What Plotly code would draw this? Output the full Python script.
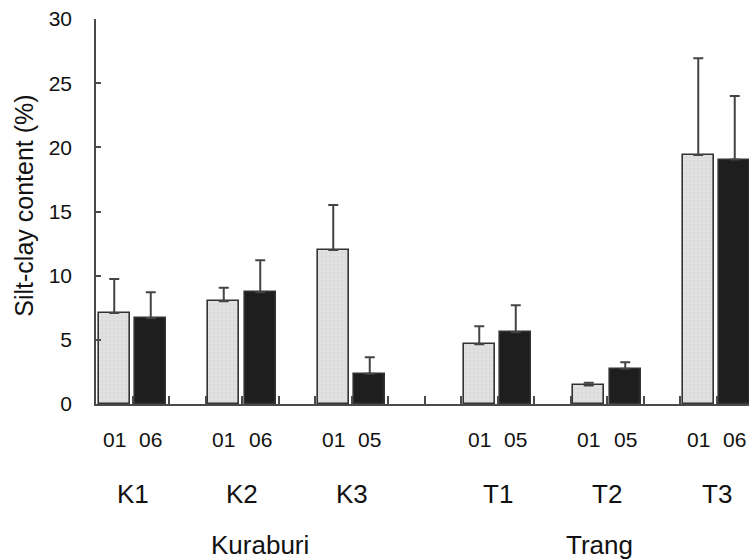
import plotly.graph_objects as go

# ---- data ----
sites = ["K1", "K2", "K3", "T1", "T2", "T3"]
regions = ["Kuraburi", "Trang"]
year_a = ["01", "01", "01", "01", "01", "01"]
year_b = ["06", "06", "05", "05", "05", "06"]
silt_a = [7.1, 8.0, 12.0, 4.65, 1.45, 19.4]
err_a = [2.65, 1.05, 3.5, 1.4, 0.2, 7.55]
silt_b = [6.7, 8.7, 2.35, 5.6, 2.75, 19.05]
err_b = [2.0, 2.5, 1.3, 2.1, 0.5, 4.95]
y_ticks = [0, 5, 10, 15, 20, 25, 30]

# ---- layout helpers (slot positions on a numeric axis) ----
pair_start = [0, 3, 6, 10, 13, 16]
xa = [p for p in pair_start]
xb = [p + 1 for p in pair_start]
boundaries = [k + 0.5 for k in range(17)]

FONT = "Liberation Sans, Arial, sans-serif"
AX = "#4a4a4a"
OUT = "#333333"

fig = go.Figure()
fig.add_trace(go.Bar(
    x=xa, y=silt_a, width=0.86,
    marker=dict(color="#dcdcdc",
                line=dict(color=OUT, width=1.6),
                pattern=dict(shape="+", size=4, solidity=0.15,
                             fgcolor="#b8b8b8", bgcolor="#e2e2e2")),
    error_y=dict(type="data", symmetric=False, array=err_a,
                 arrayminus=[0] * len(err_a), color="#444444",
                 thickness=2, width=5),
    showlegend=False,
))
fig.add_trace(go.Bar(
    x=xb, y=silt_b, width=0.86,
    marker=dict(color="#1c1c1c",
                line=dict(color=OUT, width=1.6),
                pattern=dict(shape="+", size=4, solidity=0.15,
                             fgcolor="#2e2e2e", bgcolor="#1c1c1c")),
    error_y=dict(type="data", symmetric=False, array=err_b,
                 arrayminus=[0] * len(err_b), color="#444444",
                 thickness=2, width=5),
    showlegend=False,
))

ann = []
for i in range(len(sites)):
    ann.append(dict(x=xa[i], y=-0.093, xref="x", yref="paper", text=year_a[i],
                    showarrow=False, font=dict(size=21, color="#111"),
                    xanchor="center", yanchor="middle"))
    ann.append(dict(x=xb[i], y=-0.093, xref="x", yref="paper", text=year_b[i],
                    showarrow=False, font=dict(size=21, color="#111"),
                    xanchor="center", yanchor="middle"))
    ann.append(dict(x=xa[i] + 0.5, y=-0.234, xref="x", yref="paper", text=sites[i],
                    showarrow=False, font=dict(size=26, color="#111"),
                    xanchor="center", yanchor="middle"))
region_x = [4.0, 13.3]
for rx, name in zip(region_x, regions):
    ann.append(dict(x=rx, y=-0.365, xref="x", yref="paper", text=name,
                    showarrow=False, font=dict(size=26, color="#111"),
                    xanchor="center", yanchor="middle"))
ann.append(dict(x=-72 / 653, y=0.515, xref="paper", yref="paper",
                text="Silt-clay content (%)", textangle=-90, showarrow=False,
                font=dict(size=25, color="#111"), xanchor="center", yanchor="middle"))

fig.update_layout(
    width=749, height=560,
    margin=dict(l=96, r=0, t=19, b=156),
    paper_bgcolor="white", plot_bgcolor="white",
    font=dict(family=FONT, color="#111"),
    bargap=0, annotations=ann,
    xaxis=dict(range=[-0.5, -0.5 + 653 / 36.5], showgrid=False, zeroline=False,
               showline=True, linecolor=AX, linewidth=2,
               tickmode="array", tickvals=boundaries, ticktext=[""] * len(boundaries),
               ticks="inside", ticklen=8, tickwidth=1.5, tickcolor=AX,
               showticklabels=False, fixedrange=True),
    yaxis=dict(range=[0, 30], showgrid=False, zeroline=False,
               showline=True, linecolor=AX, linewidth=1.5,
               tickmode="array", tickvals=y_ticks,
               ticks="inside", ticklen=5, tickwidth=1.5, tickcolor=AX,
               tickfont=dict(size=21, color="#111"), ticklabelstandoff=18),
)

fig.write_html("out.html",
               config={"displayModeBar": False},
               post_script="document.body.style.margin='0px';"
                           "document.body.style.overflow='hidden';")
